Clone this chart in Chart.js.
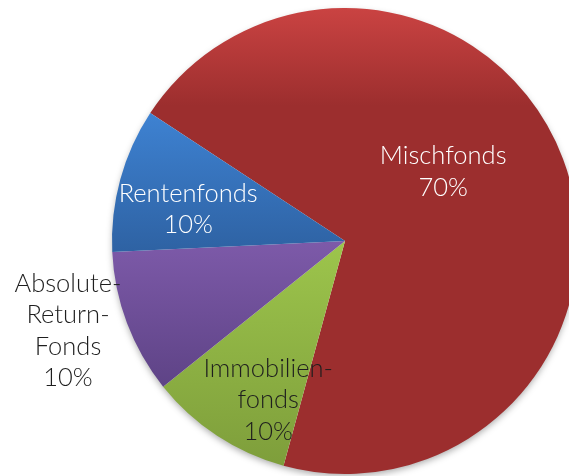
<!DOCTYPE html>
<html>
<head>
<meta charset="utf-8">
<script src="https://cdn.jsdelivr.net/npm/chart.js@4"></script>
<style>
  html, body { margin: 0; padding: 0; background: #fff; overflow: hidden; }
  #wrap { position: absolute; left: 0; top: 0; width: 700px; height: 476px; }
</style>
</head>
<body>
<div id="wrap"><canvas id="pieChart"></canvas></div>
<script>
// data, in drawing order (clockwise)
const labels = ['Mischfonds', 'Immobilien-fonds', 'Absolute-Return-Fonds', 'Rentenfonds']
const labelLines = [['Mischfonds'], ['Immobilien-', 'fonds'], ['Absolute-', 'Return-', 'Fonds'], ['Rentenfonds']]
const shares = [70, 10, 10, 10]

// styles
const topColors = ['#ca4342', '#9dc54c', '#7d5aa9', '#3e82d2']
const baseColors = ['#9c2e2e', '#7e9e3b', '#5e4386', '#2e62a3']
const fadeStop = [0.21, 1, 1, 1]
const textColors = ['#ffffff', '#1e1e1e', '#1e1e1e', '#ffffff']
// label placement relative to slice: [radius fraction, angle shift in degrees]
const labelPlace = [[0.515, -14.4], [0.758, -7.5], [1.25, 2.7], [0.687, -3.8]]

// vertical gradient over each slice's own height
const sliceGradients = {
    id: 'sliceGradients',
    beforeDatasetsDraw(chart) {
        const ctx = chart.ctx
        chart.getDatasetMeta(0).data.forEach((arc, i) => {
            const { x, y, startAngle, endAngle, outerRadius } = arc
            const ys = [y, y + Math.sin(startAngle) * outerRadius, y + Math.sin(endAngle) * outerRadius]
            for (let a = -Math.PI * 2.5; a <= Math.PI * 2.5; a += Math.PI / 2) {
                if (a > startAngle && a < endAngle) ys.push(y + Math.sin(a) * outerRadius)
            }
            const top = Math.min(...ys), bottom = Math.max(...ys)
            const g = ctx.createLinearGradient(0, top, 0, bottom)
            g.addColorStop(0, topColors[i])
            g.addColorStop(fadeStop[i], baseColors[i])
            g.addColorStop(1, baseColors[i])
            arc.options.backgroundColor = g
        })
    }
}

const pieShadow = {
    id: 'pieShadow',
    beforeDatasetsDraw(chart) {
        const arc = chart.getDatasetMeta(0).data[0]
        if (!arc) return
        const ctx = chart.ctx
        ctx.save()
        ctx.shadowColor = 'rgba(0,0,0,0.35)'
        ctx.shadowBlur = 7
        ctx.shadowOffsetY = 3
        ctx.fillStyle = '#fff'
        ctx.beginPath()
        ctx.arc(arc.x, arc.y, arc.outerRadius - 1, 0, Math.PI * 2)
        ctx.fill()
        ctx.restore()
    }
}

const sliceLabels = {
    id: 'sliceLabels',
    afterDatasetsDraw(chart) {
        const ctx = chart.ctx
        const meta = chart.getDatasetMeta(0)
        ctx.save()
        ctx.font = '300 25.5px Lato'
        ctx.textAlign = 'center'
        ctx.textBaseline = 'middle'
        meta.data.forEach((arc, i) => {
            const mid = (arc.startAngle + arc.endAngle) / 2 + labelPlace[i][1] * Math.PI / 180
            const r = arc.outerRadius * labelPlace[i][0]
            const cx = arc.x + Math.cos(mid) * r
            const cy = arc.y + Math.sin(mid) * r
            const lines = labelLines[i].concat([shares[i] + '%'])
            const lh = 31.5
            ctx.fillStyle = textColors[i]
            lines.forEach((t, k) => {
                ctx.fillText(t, cx, cy + (k - (lines.length - 1) / 2) * lh)
            })
        })
        ctx.restore()
    }
}

const ctx = document.getElementById('pieChart').getContext('2d')

new Chart(ctx, {
    type: 'pie',
    data: {
        labels: labels,
        datasets: [{
            data: shares,
            backgroundColor: baseColors,
            borderWidth: 0,
        }]
    },
    options: {
        responsive: true,
        maintainAspectRatio: false,
        animation: false,
        rotation: -56.7,
        layout: {
            padding: { left: 112, top: 8, right: 122, bottom: 2 }
        },
        plugins: {
            legend: { display: false },
            tooltip: { enabled: false },
        }
    },
    plugins: [pieShadow, sliceGradients, sliceLabels]
});
</script>
</body>
</html>
